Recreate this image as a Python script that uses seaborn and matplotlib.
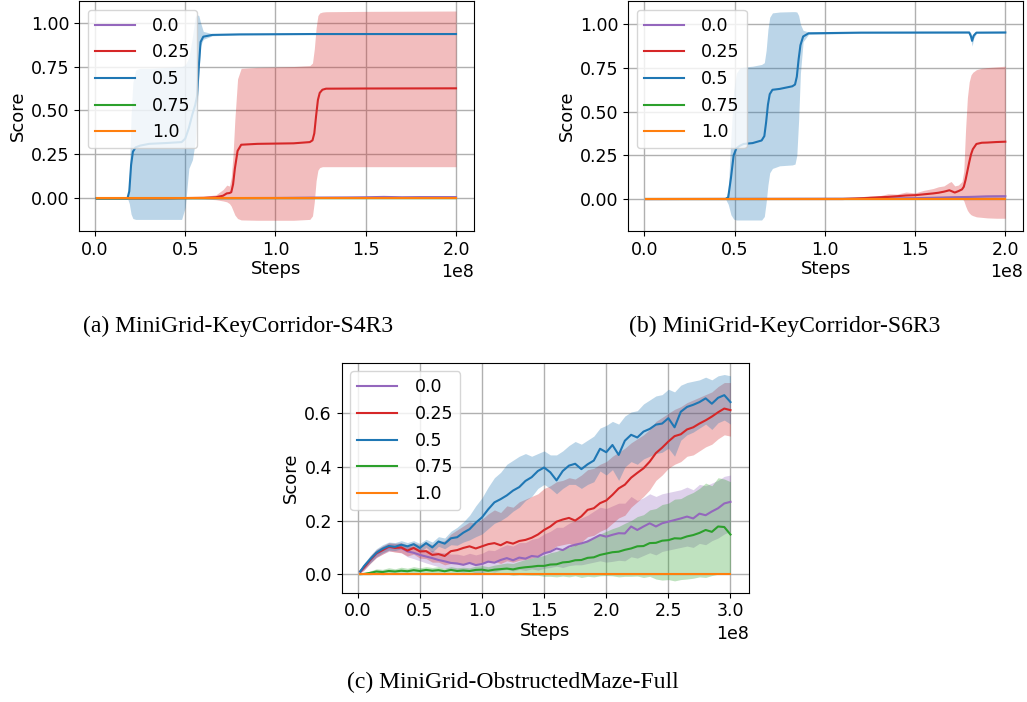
import numpy as np
import pandas as pd
import matplotlib
matplotlib.use("Agg")
import matplotlib.pyplot as plt
import seaborn as sns

LABELS = ["0.0", "0.25", "0.5", "0.75", "1.0"]
COLORS = ["#9467bd", "#d62728", "#1f77b4", "#2ca02c", "#ff7f0e"]
STEP_UNIT = 1e8
CAPTIONS = ["(a) MiniGrid-KeyCorridor-S4R3",
            "(b) MiniGrid-KeyCorridor-S6R3",
            "(c) MiniGrid-ObstructedMaze-Full"]

# ---------------- panel (a): KeyCorridor-S4R3 (steps in 1e8) ----------------
A_X_00 = [0.01, 0.60, 1.00, 1.20, 1.40, 1.50, 1.60, 1.70, 1.80, 2.00]
A_M_00 = [0.0, 0.001, 0.002, 0.004, 0.005, 0.006, 0.008, 0.006, 0.007, 0.007]
A_L_00 = [0.0, 0.0, 0.0, 0.001, 0.001, 0.002, 0.003, 0.002, 0.002, 0.002]
A_H_00 = [0.0, 0.002, 0.004, 0.008, 0.009, 0.011, 0.014, 0.011, 0.012, 0.012]

A_X_25 = [0.01, 0.40, 0.60, 0.67, 0.71, 0.73, 0.745, 0.755, 0.765, 0.775, 0.79, 0.81,
          0.90, 1.10, 1.19, 1.205, 1.215, 1.225, 1.235, 1.245, 1.26, 1.28, 1.50, 2.00]
A_M_25 = [0.0, 0.0, 0.003, 0.006, 0.015, 0.028, 0.03, 0.035, 0.08, 0.17, 0.27, 0.305,
          0.31, 0.313, 0.32, 0.33, 0.37, 0.47, 0.56, 0.60, 0.618, 0.624, 0.625, 0.626]
A_L_25 = [0.0, 0.0, -0.003, -0.008, -0.015, -0.02, -0.03, -0.045, -0.07, -0.095, -0.115, -0.123,
          -0.125, -0.125, -0.12, -0.10, -0.02, 0.10, 0.16, 0.175, 0.18, 0.18, 0.18, 0.18]
A_H_25 = [0.0, 0.0, 0.01, 0.02, 0.05, 0.075, 0.07, 0.12, 0.25, 0.45, 0.68, 0.74,
          0.745, 0.75, 0.755, 0.77, 0.85, 0.97, 1.04, 1.055, 1.06, 1.062, 1.064, 1.066]

A_X_50 = [0.01, 0.18, 0.19, 0.20, 0.21, 0.225, 0.25, 0.30, 0.40, 0.48, 0.50, 0.52, 0.54,
          0.555, 0.565, 0.575, 0.585, 0.60, 0.65, 0.80, 1.20, 2.00]
A_M_50 = [0.0, 0.0, 0.04, 0.19, 0.265, 0.29, 0.30, 0.31, 0.315, 0.32, 0.34, 0.40, 0.48,
          0.53, 0.58, 0.75, 0.89, 0.92, 0.93, 0.933, 0.935, 0.935]
A_L_50 = [0.0, 0.0, -0.03, -0.09, -0.115, -0.12, -0.12, -0.12, -0.12, -0.12, -0.05, 0.17, 0.22,
          0.32, 0.48, 0.70, 0.87, 0.905, 0.925, 0.93, 0.932, 0.932]
A_H_50 = [0.0, 0.0, 0.11, 0.47, 0.66, 0.73, 0.74, 0.74, 0.745, 0.75, 0.76, 0.80, 0.92,
          1.03, 1.045, 1.04, 1.00, 0.95, 0.937, 0.936, 0.938, 0.938]

A_X_75 = [0.01, 1.00, 2.00]
A_M_75 = [0.0, 0.001, 0.001]
A_L_75 = [0.0, 0.0, 0.0]
A_H_75 = [0.0, 0.002, 0.002]

A_X_100 = [0.01, 2.00]
A_M_100 = [0.0, 0.0]
A_L_100 = [0.0, 0.0]
A_H_100 = [0.0, 0.0]

# ---------------- panel (b): KeyCorridor-S6R3 ----------------
B_X_00 = [0.01, 1.20, 1.50, 1.70, 1.80, 1.90, 2.00]
B_M_00 = [0.0, 0.002, 0.005, 0.010, 0.012, 0.015, 0.016]
B_L_00 = [0.0, 0.0, 0.001, 0.004, 0.005, 0.007, 0.008]
B_H_00 = [0.0, 0.004, 0.009, 0.016, 0.019, 0.023, 0.024]

B_X_25 = [0.01, 1.10, 1.20, 1.25, 1.30, 1.35, 1.40, 1.45, 1.50, 1.55, 1.60, 1.63, 1.66, 1.69,
          1.70, 1.72, 1.74, 1.76, 1.77, 1.78, 1.79, 1.80, 1.81, 1.82, 1.84, 1.87, 1.90, 1.95, 2.00]
B_M_25 = [0.0, 0.0, 0.004, 0.006, 0.01, 0.012, 0.016, 0.02, 0.022, 0.027, 0.032, 0.036, 0.042, 0.05,
          0.046, 0.037, 0.045, 0.055, 0.07, 0.11, 0.16, 0.21, 0.255, 0.285, 0.315, 0.322, 0.323, 0.326, 0.328]
B_L_25 = [0.0, 0.0, 0.0, 0.0, 0.002, 0.0, 0.004, 0.003, 0.005, 0.004, 0.006, 0.005, 0.008, 0.006,
          0.004, 0.003, 0.006, 0.004, -0.01, -0.04, -0.065, -0.08, -0.09, -0.095, -0.102, -0.105, -0.108, -0.11, -0.11]
B_H_25 = [0.0, 0.002, 0.012, 0.02, 0.018, 0.03, 0.028, 0.04, 0.035, 0.05, 0.06, 0.07, 0.075, 0.095,
          0.10, 0.075, 0.08, 0.10, 0.16, 0.40, 0.58, 0.67, 0.71, 0.725, 0.74, 0.748, 0.752, 0.756, 0.76]

B_X_50 = [0.01, 0.45, 0.465, 0.48, 0.495, 0.51, 0.53, 0.55, 0.60, 0.65, 0.665, 0.675, 0.685, 0.695,
          0.71, 0.75, 0.82, 0.835, 0.845, 0.855, 0.865, 0.88, 0.91, 1.20, 1.80, 1.81, 1.816, 1.825, 1.84, 2.00]
B_M_50 = [0.0, 0.0, 0.01, 0.12, 0.25, 0.29, 0.305, 0.315, 0.32, 0.335, 0.36, 0.44, 0.54, 0.60,
          0.625, 0.63, 0.645, 0.655, 0.70, 0.80, 0.88, 0.93, 0.948, 0.952, 0.953, 0.93, 0.905, 0.935, 0.952, 0.953]
B_L_50 = [0.0, 0.0, -0.03, -0.09, -0.115, -0.12, -0.12, -0.12, -0.12, -0.12, -0.10, -0.02, 0.08, 0.15,
          0.175, 0.19, 0.195, 0.20, 0.25, 0.45, 0.72, 0.90, 0.942, 0.948, 0.948, 0.91, 0.875, 0.92, 0.948, 0.948]
B_H_50 = [0.0, 0.0, 0.05, 0.35, 0.62, 0.72, 0.75, 0.755, 0.76, 0.77, 0.78, 0.85, 0.97, 1.04,
          1.065, 1.07, 1.072, 1.072, 1.07, 1.05, 1.00, 0.965, 0.956, 0.958, 0.958, 0.95, 0.93, 0.95, 0.958, 0.958]

B_X_75 = [0.01, 2.00]
B_M_75 = [0.0, 0.0]
B_L_75 = [0.0, 0.0]
B_H_75 = [0.0, 0.0]

B_X_100 = [0.01, 2.00]
B_M_100 = [0.0, 0.0]
B_L_100 = [0.0, 0.0]
B_H_100 = [0.0, 0.0]

# ---------------- panel (c): ObstructedMaze-Full ----------------
C_X = [0.02, 0.05, 0.10, 0.15, 0.20, 0.25, 0.30, 0.35, 0.40, 0.45, 0.50, 0.55, 0.60, 0.65, 0.70,
       0.75, 0.80, 0.85, 0.90, 0.95, 1.00, 1.05, 1.10, 1.15, 1.20, 1.25, 1.30, 1.35, 1.40, 1.45,
       1.50, 1.55, 1.60, 1.65, 1.70, 1.75, 1.80, 1.85, 1.90, 1.95, 2.00, 2.05, 2.10, 2.15, 2.20,
       2.25, 2.30, 2.35, 2.40, 2.45, 2.50, 2.55, 2.60, 2.65, 2.70, 2.75, 2.80, 2.85, 2.90, 2.95, 3.00]

C_M_00 = [0.010, 0.025, 0.052, 0.076, 0.090, 0.100, 0.100, 0.098, 0.085, 0.080, 0.072, 0.066, 0.060, 0.053, 0.048,
          0.042, 0.040, 0.035, 0.042, 0.034, 0.038, 0.047, 0.043, 0.053, 0.060, 0.052, 0.062, 0.058, 0.068, 0.065,
          0.078, 0.084, 0.096, 0.090, 0.103, 0.110, 0.115, 0.122, 0.134, 0.146, 0.140, 0.147, 0.153, 0.152, 0.178,
          0.165, 0.178, 0.190, 0.178, 0.190, 0.196, 0.202, 0.208, 0.215, 0.208, 0.226, 0.220, 0.234, 0.246, 0.264, 0.270]
C_H_00 = [0.015, 0.035, 0.065, 0.090, 0.105, 0.115, 0.115, 0.115, 0.105, 0.102, 0.095, 0.092, 0.088, 0.082, 0.080,
          0.075, 0.075, 0.070, 0.078, 0.072, 0.078, 0.090, 0.088, 0.100, 0.110, 0.105, 0.118, 0.118, 0.130, 0.135,
          0.150, 0.160, 0.175, 0.175, 0.190, 0.200, 0.210, 0.220, 0.235, 0.250, 0.245, 0.255, 0.265, 0.265, 0.290,
          0.275, 0.285, 0.300, 0.290, 0.300, 0.305, 0.310, 0.315, 0.325, 0.315, 0.335, 0.330, 0.340, 0.350, 0.365, 0.370]
C_L_00 = [0.005, 0.015, 0.040, 0.062, 0.075, 0.085, 0.085, 0.080, 0.065, 0.058, 0.050, 0.042, 0.035, 0.028, 0.022,
          0.015, 0.012, 0.008, 0.012, 0.005, 0.006, 0.012, 0.008, 0.015, 0.018, 0.012, 0.018, 0.014, 0.020, 0.015,
          0.022, 0.025, 0.030, 0.025, 0.032, 0.035, 0.035, 0.040, 0.045, 0.050, 0.045, 0.048, 0.052, 0.050, 0.065,
          0.060, 0.070, 0.080, 0.072, 0.085, 0.090, 0.095, 0.100, 0.105, 0.100, 0.115, 0.110, 0.125, 0.135, 0.150, 0.160]

C_M_25 = [0.010, 0.025, 0.053, 0.078, 0.090, 0.103, 0.098, 0.100, 0.088, 0.098, 0.085, 0.086, 0.072, 0.075, 0.068,
          0.086, 0.090, 0.098, 0.104, 0.096, 0.104, 0.112, 0.116, 0.108, 0.120, 0.114, 0.124, 0.128, 0.136, 0.148,
          0.165, 0.178, 0.196, 0.204, 0.210, 0.200, 0.216, 0.240, 0.246, 0.265, 0.275, 0.296, 0.320, 0.334, 0.360,
          0.378, 0.395, 0.420, 0.452, 0.472, 0.495, 0.515, 0.522, 0.540, 0.548, 0.562, 0.574, 0.588, 0.604, 0.618, 0.612]
C_H_25 = [0.015, 0.035, 0.068, 0.092, 0.105, 0.118, 0.115, 0.118, 0.108, 0.118, 0.110, 0.118, 0.110, 0.120, 0.125,
          0.150, 0.165, 0.180, 0.195, 0.190, 0.205, 0.225, 0.240, 0.230, 0.255, 0.250, 0.270, 0.280, 0.290, 0.300,
          0.320, 0.330, 0.345, 0.350, 0.360, 0.355, 0.370, 0.390, 0.395, 0.410, 0.420, 0.440, 0.455, 0.470, 0.490,
          0.505, 0.520, 0.540, 0.570, 0.585, 0.600, 0.615, 0.625, 0.640, 0.650, 0.660, 0.670, 0.680, 0.700, 0.715, 0.715]
C_L_25 = [0.005, 0.015, 0.040, 0.062, 0.075, 0.088, 0.082, 0.080, 0.068, 0.075, 0.060, 0.058, 0.045, 0.045, 0.035,
          0.040, 0.038, 0.040, 0.042, 0.035, 0.040, 0.045, 0.048, 0.040, 0.050, 0.045, 0.052, 0.055, 0.060, 0.068,
          0.080, 0.090, 0.105, 0.110, 0.115, 0.105, 0.120, 0.140, 0.145, 0.160, 0.170, 0.190, 0.210, 0.220, 0.250,
          0.270, 0.290, 0.315, 0.350, 0.370, 0.395, 0.410, 0.420, 0.440, 0.445, 0.460, 0.475, 0.485, 0.505, 0.520, 0.515]

C_M_50 = [0.010, 0.030, 0.056, 0.080, 0.095, 0.105, 0.102, 0.110, 0.104, 0.112, 0.098, 0.116, 0.100, 0.122, 0.114,
          0.134, 0.138, 0.155, 0.168, 0.192, 0.212, 0.242, 0.268, 0.280, 0.294, 0.312, 0.325, 0.348, 0.362, 0.385,
          0.398, 0.380, 0.350, 0.385, 0.405, 0.412, 0.392, 0.410, 0.424, 0.468, 0.455, 0.482, 0.445, 0.498, 0.520,
          0.510, 0.532, 0.542, 0.558, 0.562, 0.582, 0.548, 0.606, 0.624, 0.632, 0.642, 0.656, 0.636, 0.658, 0.668, 0.642]
C_H_50 = [0.015, 0.040, 0.070, 0.095, 0.110, 0.120, 0.118, 0.125, 0.118, 0.125, 0.115, 0.130, 0.120, 0.140, 0.135,
          0.160, 0.175, 0.195, 0.220, 0.255, 0.285, 0.325, 0.360, 0.380, 0.410, 0.425, 0.440, 0.450, 0.440, 0.450,
          0.460, 0.445, 0.445, 0.460, 0.480, 0.495, 0.485, 0.500, 0.515, 0.545, 0.555, 0.570, 0.560, 0.590, 0.605,
          0.610, 0.635, 0.650, 0.665, 0.670, 0.690, 0.680, 0.705, 0.715, 0.720, 0.725, 0.735, 0.725, 0.740, 0.745, 0.740]
C_L_50 = [0.005, 0.020, 0.042, 0.065, 0.080, 0.090, 0.088, 0.095, 0.090, 0.098, 0.082, 0.100, 0.082, 0.104, 0.095,
          0.110, 0.108, 0.120, 0.128, 0.140, 0.150, 0.170, 0.190, 0.200, 0.215, 0.235, 0.250, 0.275, 0.290, 0.320,
          0.335, 0.320, 0.300, 0.320, 0.335, 0.335, 0.320, 0.335, 0.345, 0.385, 0.370, 0.390, 0.350, 0.400, 0.420,
          0.410, 0.430, 0.440, 0.450, 0.455, 0.470, 0.440, 0.500, 0.520, 0.530, 0.545, 0.560, 0.540, 0.565, 0.575, 0.560]

C_M_75 = [0.000, 0.001, 0.005, 0.010, 0.008, 0.012, 0.010, 0.013, 0.011, 0.015, 0.012, 0.016, 0.013, 0.015, 0.011,
          0.016, 0.012, 0.014, 0.012, 0.016, 0.017, 0.013, 0.017, 0.019, 0.021, 0.018, 0.023, 0.026, 0.028, 0.031,
          0.031, 0.036, 0.037, 0.044, 0.046, 0.052, 0.053, 0.061, 0.063, 0.072, 0.077, 0.082, 0.084, 0.091, 0.096,
          0.104, 0.105, 0.116, 0.117, 0.125, 0.127, 0.134, 0.133, 0.141, 0.146, 0.154, 0.165, 0.158, 0.178, 0.176, 0.148]
C_H_75 = [0.002, 0.005, 0.012, 0.020, 0.018, 0.024, 0.020, 0.026, 0.022, 0.028, 0.024, 0.028, 0.025, 0.028, 0.022,
          0.028, 0.024, 0.026, 0.024, 0.030, 0.032, 0.028, 0.034, 0.038, 0.042, 0.040, 0.048, 0.055, 0.060, 0.066,
          0.070, 0.080, 0.085, 0.095, 0.100, 0.110, 0.115, 0.130, 0.135, 0.150, 0.160, 0.170, 0.178, 0.190, 0.200,
          0.215, 0.222, 0.240, 0.245, 0.260, 0.265, 0.280, 0.282, 0.295, 0.305, 0.320, 0.340, 0.330, 0.360, 0.355, 0.345]
C_L_75 = [-0.001, -0.002, -0.002, 0.000, -0.002, 0.000, -0.001, 0.000, -0.001, 0.002, 0.000, 0.003, 0.001, 0.002, 0.000,
          0.003, 0.000, 0.002, 0.000, 0.002, 0.002, -0.001, 0.000, 0.000, 0.000, -0.004, -0.002, -0.003, -0.004, -0.004,
          -0.008, -0.008, -0.010, -0.007, -0.010, -0.006, -0.012, -0.008, -0.010, -0.006, -0.005, -0.006, -0.010, -0.008, -0.008,
          -0.007, -0.012, -0.008, -0.018, -0.022, -0.020, -0.025, -0.020, -0.018, -0.015, -0.010, -0.012, -0.005, 0.000, 0.002, 0.000]

C_X_100 = [0.02, 3.00]
C_M_100 = [0.0, 0.0]
C_L_100 = [0.0, 0.0]
C_H_100 = [0.0, 0.0]


def panel_series(xs, means, lows, highs):
    rows = []
    for lab, x, m, lo, hi in zip(LABELS, xs, means, lows, highs):
        rows.append(pd.DataFrame({"step": np.asarray(x) * STEP_UNIT,
                                  "score": m, "low": lo, "high": hi, "label": lab}))
    return pd.concat(rows, ignore_index=True)


PANELS = [
    dict(df=panel_series([A_X_00, A_X_25, A_X_50, A_X_75, A_X_100],
                         [A_M_00, A_M_25, A_M_50, A_M_75, A_M_100],
                         [A_L_00, A_L_25, A_L_50, A_L_75, A_L_100],
                         [A_H_00, A_H_25, A_H_50, A_H_75, A_H_100]),
         rect=[79 / 1027, 1 - 231 / 702, 395 / 1027, 230 / 702],
         xlim=(-0.0886, 2.0997), ylim=(-0.186, 1.123),
         xticks=[0, 0.5, 1.0, 1.5, 2.0], yticks=[0, 0.25, 0.5, 0.75, 1.0]),
    dict(df=panel_series([B_X_00, B_X_25, B_X_50, B_X_75, B_X_100],
                         [B_M_00, B_M_25, B_M_50, B_M_75, B_M_100],
                         [B_L_00, B_L_25, B_L_50, B_L_75, B_L_100],
                         [B_H_00, B_H_25, B_H_50, B_H_75, B_H_100]),
         rect=[628.3 / 1027, 1 - 231 / 702, 395 / 1027, 230 / 702],
         xlim=(-0.0886, 2.0997), ylim=(-0.183, 1.133),
         xticks=[0, 0.5, 1.0, 1.5, 2.0], yticks=[0, 0.25, 0.5, 0.75, 1.0]),
    dict(df=panel_series([C_X, C_X, C_X, C_X, C_X_100],
                         [C_M_00, C_M_25, C_M_50, C_M_75, C_M_100],
                         [C_L_00, C_L_25, C_L_50, C_L_75, C_L_100],
                         [C_H_00, C_H_25, C_H_50, C_H_75, C_H_100]),
         rect=[341.7 / 1027, 1 - 592.7 / 702, 407.3 / 1027, 230 / 702],
         xlim=(-0.129, 3.149), ylim=(-0.069, 0.789),
         xticks=[0, 0.5, 1.0, 1.5, 2.0, 2.5, 3.0], yticks=[0, 0.2, 0.4, 0.6]),
]

CAPTION_POS = [(238 / 1027, 1 - 326 / 702), (785 / 1027, 1 - 326 / 702), (513 / 1027, 1 - 682 / 702)]

plt.rcParams["font.family"] = ["DejaVu Sans"]
fig = plt.figure(figsize=(10.27, 7.02), dpi=100)
palette = dict(zip(LABELS, COLORS))
TICK_FS = 12.5

for p in PANELS:
    ax = fig.add_axes(p["rect"])
    df = p["df"]
    for lab in LABELS:
        sub = df[df["label"] == lab]
        ax.fill_between(sub["step"], sub["low"], sub["high"], color=palette[lab],
                        alpha=0.3, linewidth=0, zorder=1)
    sns.lineplot(data=df, x="step", y="score", hue="label", hue_order=LABELS,
                 palette=palette, estimator=None, sort=False, linewidth=1.5,
                 ax=ax, zorder=3)
    ax.set_xlim(p["xlim"][0] * STEP_UNIT, p["xlim"][1] * STEP_UNIT)
    ax.set_ylim(*p["ylim"])
    ax.set_xticks([t * STEP_UNIT for t in p["xticks"]])
    ax.set_yticks(p["yticks"])
    ax.grid(True, color="#b0b0b0", linewidth=1.0)
    ax.set_axisbelow(True)
    ax.tick_params(labelsize=TICK_FS)
    ax.xaxis.get_offset_text().set_fontsize(TICK_FS)
    ax.set_xlabel("Steps", fontsize=13, labelpad=1)
    ax.set_ylabel("Score", fontsize=13, labelpad=3)
    handles, labels = ax.get_legend_handles_labels()
    ax.legend(handles, labels, loc="upper left", fontsize=TICK_FS,
              handlelength=2.3, handletextpad=1.0)

for (cx, cy), text in zip(CAPTION_POS, CAPTIONS):
    fig.text(cx, cy, text, ha="center", va="center", fontsize=17,
             family=["Liberation Serif", "DejaVu Serif"])

fig.savefig("out.png", dpi=100)
